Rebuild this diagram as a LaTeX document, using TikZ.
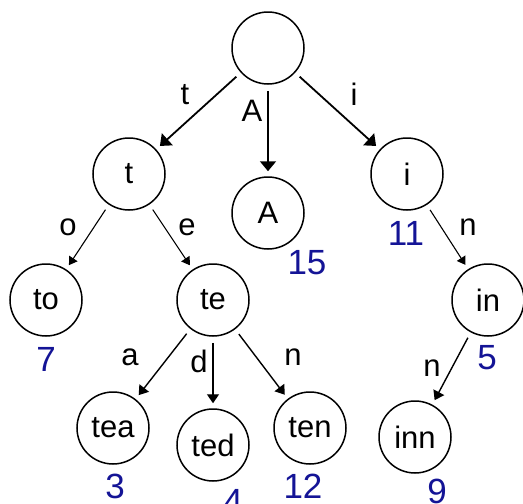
\documentclass[tikz,border=0pt]{standalone}
\usepackage{fontspec}
\setmainfont{Liberation Sans}
\usetikzlibrary{arrows.meta}
\definecolor{numblue}{RGB}{20,20,150}
\tikzset{
  trienode/.style={circle,draw,line width=1.5pt,minimum size=72pt,inner sep=0pt,font=\fontsize{31}{31}\selectfont},
  numlabel/.style={inner sep=0pt,text=numblue,font=\fontsize{35}{35}\selectfont},
  edgelabel/.style={inner sep=0pt,font=\fontsize{31}{31}\selectfont},
  bigedge/.style={line width=1.8pt,-{Triangle[length=10pt,width=16pt]},shorten <=6pt,shorten >=5pt},
  thinedge/.style={line width=1.1pt,-{Triangle[length=8pt,width=10pt]},shorten <=6pt,shorten >=5pt},
  midedge/.style={line width=1.4pt,-{Triangle[length=9pt,width=12pt]},shorten <=6pt,shorten >=5pt}
}
\begin{document}
\begin{tikzpicture}[x=1pt,y=-1pt]
\useasboundingbox (0,0) rectangle (523,504);
\node[trienode] (root) at (268,48) {};
\node[trienode] (t) at (129,174) {t};
\node[trienode] (A) at (268,213) {A};
\node[trienode] (i) at (407,174) {i};
\node[trienode] (to) at (46,300) {to};
\node[trienode] (te) at (213,300) {te};
\node[trienode] (in) at (488,300) {in};
\node[trienode] (tea) at (113,428) {tea};
\node[trienode] (ted) at (213,445) {ted};
\node[trienode] (ten) at (310,428) {ten};
\node[trienode] (inn) at (415,437) {inn};

\draw[bigedge] (root) -- (t);
\draw[bigedge] (root) -- (A);
\draw[bigedge] (root) -- (i);
\draw[thinedge] (t) -- (to);
\draw[thinedge] (t) -- (te);
\draw[thinedge] (i) -- (in);
\draw[midedge] (te) -- (tea);
\draw[midedge] (te) -- (ted);
\draw[midedge] (te) -- (ten);
\draw[midedge] (in) -- (inn);

\node[edgelabel] (lt) at (185,95) {t};
\node[edgelabel] (lA) at (252,111) {A};
\node[edgelabel] (li) at (354,94) {i};
\node[edgelabel] (lo) at (68,227) {o};
\node[edgelabel] (le) at (187,227) {e};
\node[edgelabel] (ln1) at (468,227) {n};
\node[edgelabel] (la) at (130,357) {a};
\node[edgelabel] (ld) at (199,361) {d};
\node[edgelabel] (ln2) at (293,357) {n};
\node[edgelabel] (ln3) at (432,368) {n};

\node[numlabel] (n7) at (46,359) {7};
\node[numlabel] (n15) at (307,263) {15};
\node[numlabel] (n11) at (406,233) {11};
\node[numlabel] (n5) at (487,358) {5};
\node[numlabel] (n3) at (115,486) {3};
\node[numlabel] (n4) at (233,501) {4};
\node[numlabel] (n12) at (303,486) {12};
\node[numlabel] (n9) at (437,491) {9};
\end{tikzpicture}
\end{document}
